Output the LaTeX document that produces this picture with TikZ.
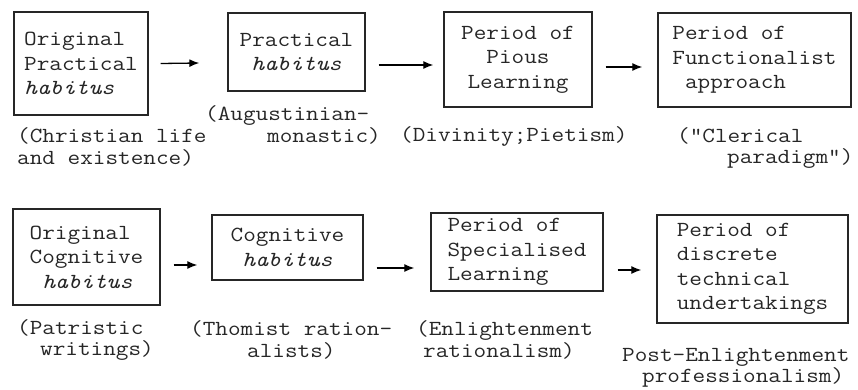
\documentclass[tikz,border=0pt]{standalone}
\usepackage{fontspec}
\setmonofont[FakeStretch=1.14]{Latin Modern Mono}
\usepackage{tikz}
\usetikzlibrary{arrows.meta,positioning}
\tikzstyle{block} = [rectangle, draw=black!85, line width=1.4pt, inner sep=0pt, text=black!85, font=\ttfamily\fontsize{21.5}{24.5}\selectfont]
\tikzstyle{note} = [inner sep=0pt, anchor=west, align=left, text=black!85, font=\ttfamily\fontsize{21.5}{21.5}\selectfont]

\begin{document}
\begin{tikzpicture}[x=1pt, y=-1pt, >={Latex[length=10pt,width=8pt]}]
    \useasboundingbox (0,0) rectangle (858,390);

    % practical line
    \node[block, minimum width=134pt, minimum height=103pt, align=left] (origPract) at (81,63.5) {Original\\Practical\\\textit{habitus}};
    \node[block, minimum width=137pt, minimum height=78pt, align=center] (pract) at (296.5,52) {Practical\\\textit{habitus}};
    \node[block, minimum width=148pt, minimum height=95pt, align=center] (pious) at (518,59.5) {Period of\\Pious\\Learning};
    \node[block, minimum width=193pt, minimum height=94pt, align=left] (funct) at (754.5,60) {Period of\\Functionalist\\\phantom{x}approach};

    \draw[->, line width=1.3pt] ([xshift=12pt]origPract.east) -- ([xshift=-28pt,yshift=-11pt]pract.west);
    \draw[->, line width=1.3pt] ([xshift=13pt,yshift=-13pt]pract.east) -- ([xshift=-10pt,yshift=-5.5pt]pious.west);
    \draw[->, line width=1.3pt] ([xshift=13pt,yshift=-7.5pt]pious.east) -- ([xshift=-15pt,yshift=-7pt]funct.west);

    \node[note] (christ) at (17,147) {(Christian life\\and existence)};
    \node[note] (august) at (205,125) {(Augustinian-\\\hspace*{62pt}monastic)};
    \node[note] (divin) at (400,136) {(Divinity;Pietism)};
    \node[note] (cleric) at (677,148) {("Clerical\\\hspace*{50pt}paradigm")};

    % cognitive line
    \node[block, minimum width=147pt, minimum height=96pt, align=left] (origCogn) at (86.5,257) {Original\\Cognitive\\\phantom{x}\textit{habitus}};
    \node[block, minimum width=151pt, minimum height=65pt, align=center] (cogn) at (287.5,247.5) {Cognitive\\\textit{habitus}};
    \node[block, minimum width=172pt, minimum height=78pt, align=left] (spec) at (517,252) {Period of\\Specialised\\Learning};
    \node[block, minimum width=191pt, minimum height=108pt, align=left] (discr) at (752.5,269) {Period of\\discrete\\technical\\undertakings};

    \draw[->, line width=1.3pt] ([xshift=13pt,yshift=-8pt]origCogn.east) -- ([xshift=-14pt,yshift=-17.5pt]cogn.west);
    \draw[->, line width=1.3pt] ([xshift=13pt,yshift=-20.5pt]cogn.east) -- ([xshift=-16pt,yshift=-16pt]spec.west);
    \draw[->, line width=1.3pt] ([xshift=14pt,yshift=-18pt]spec.east) -- ([xshift=-15pt,yshift=-1pt]discr.west);

    \node[note] (patrist) at (17,340) {(Patristic\\\hspace*{23pt}writings)};
    \node[note] (thomist) at (190,340) {(Thomist ration-\\\hspace*{57pt}alists)};
    \node[note] (enlight) at (416,340) {(Enlightenment\\\hspace*{7pt}rationalism)};
    \node[note] (postEnl) at (622,368) {Post-Enlightenment\\\hspace*{20pt}professionalism)};
\end{tikzpicture}
\end{document}
